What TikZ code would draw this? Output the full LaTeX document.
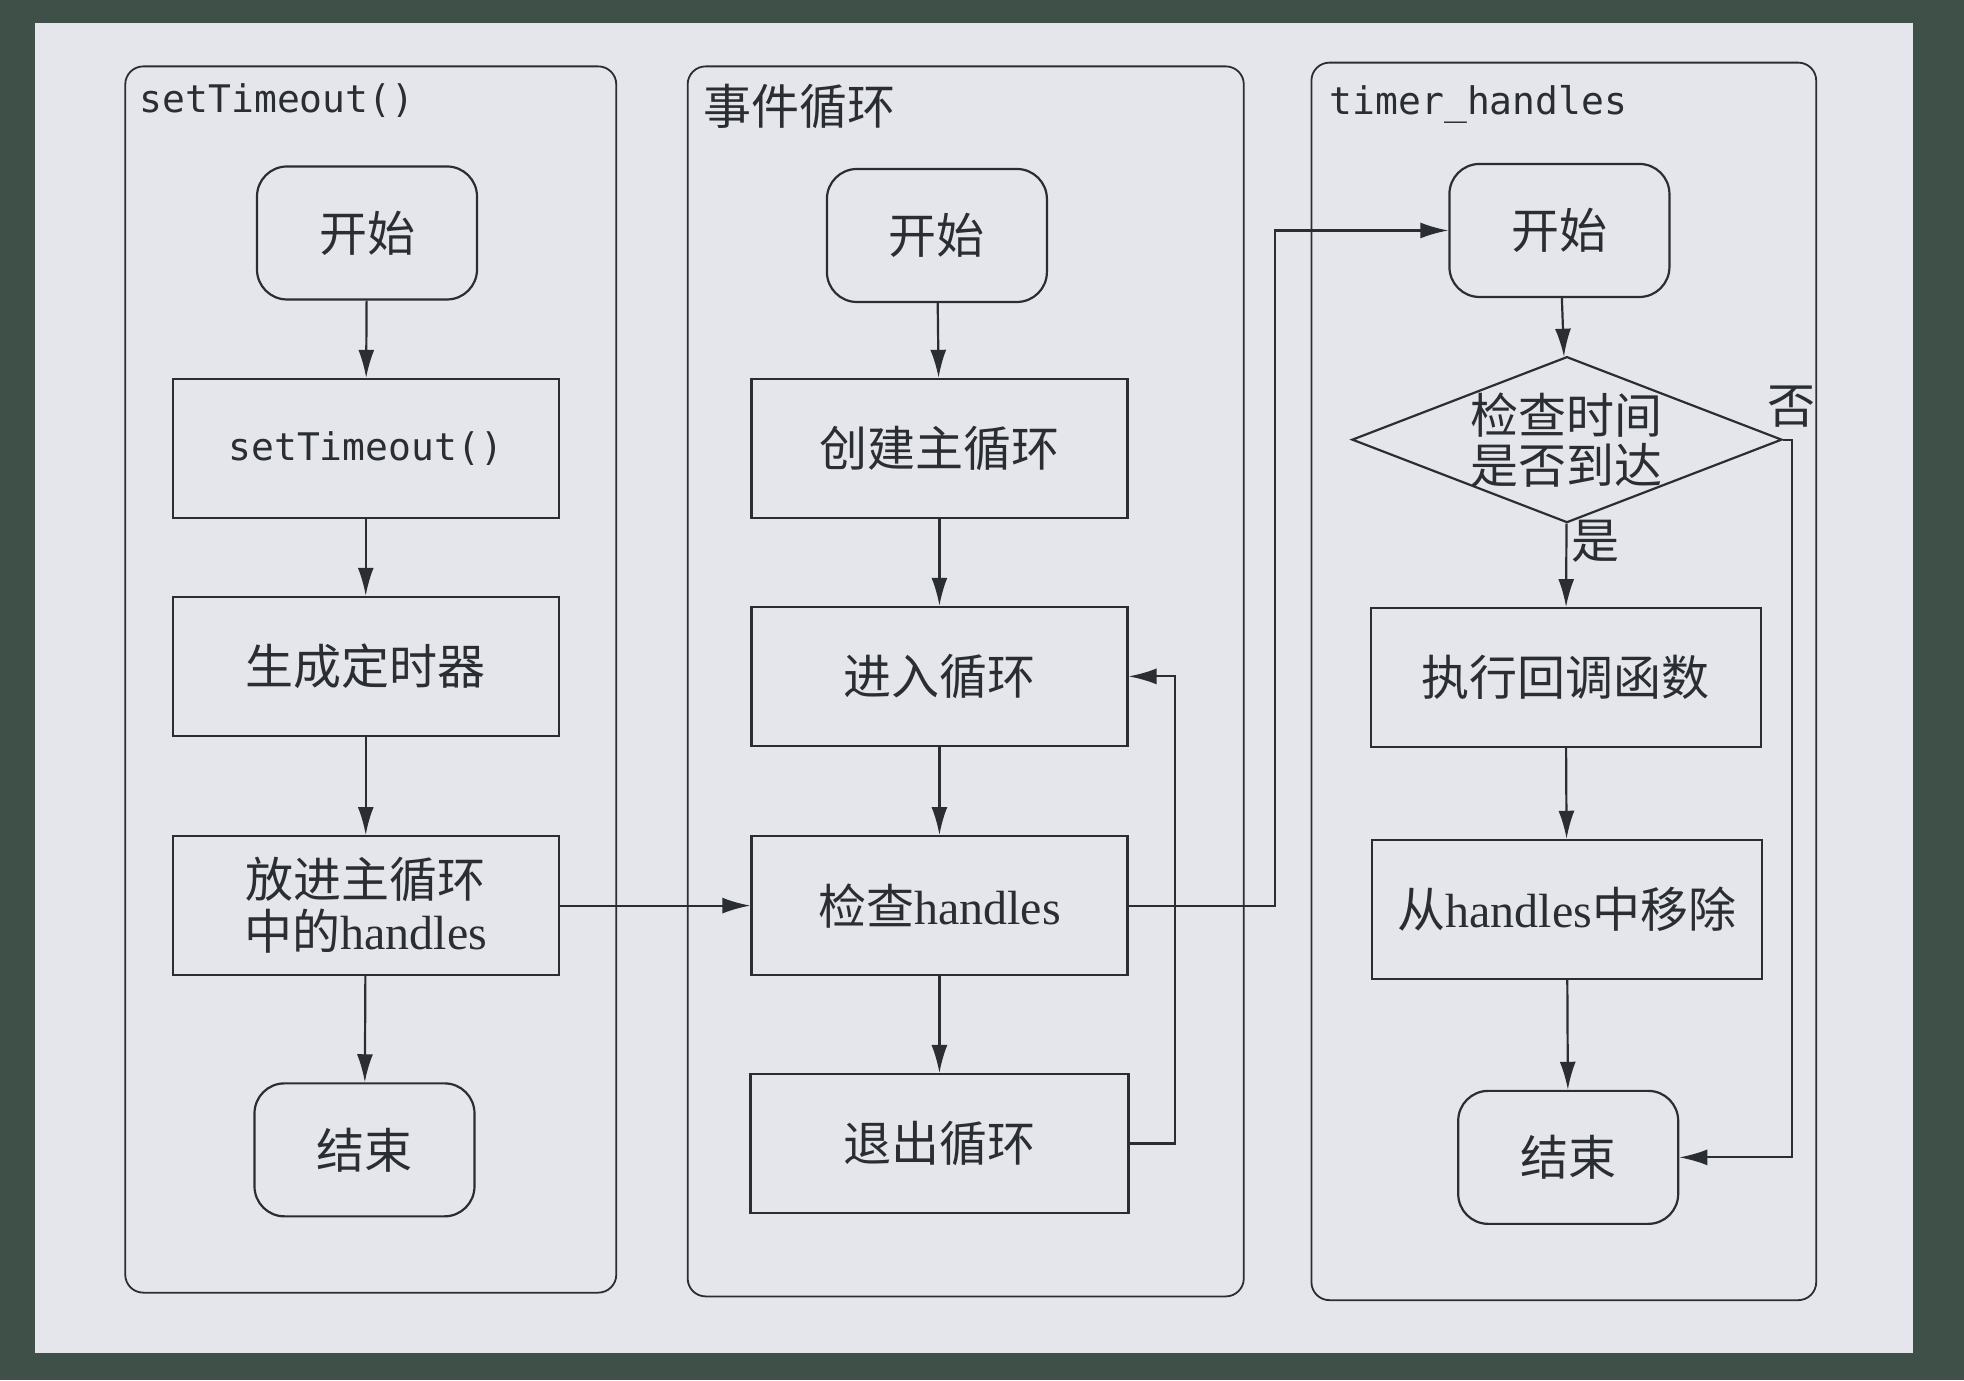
\documentclass[tikz,border=0pt]{standalone}
\usepackage{fontspec}
\setmainfont{Liberation Serif}
\setmonofont{DejaVu Sans Mono}
\newfontfamily\cjk{Noto Sans CJK SC}
\usetikzlibrary{shapes.geometric,arrows.meta}
\definecolor{ink}{HTML}{2A2E33}
\definecolor{board}{HTML}{3E5048}
\definecolor{paper}{HTML}{E4E6EB}
\tikzstyle{lane} = [draw=ink,rounded corners=9pt,line width=0.9pt]

\begin{document}
\begin{tikzpicture}
		[
		x=0.6263pt,y=-0.6263pt,
		txt/.style={text=ink,font=\fontsize{24pt}{26pt}\selectfont},
		zh/.style={text=ink,font=\cjk\fontsize{24pt}{25pt}\selectfont},
		block/.style={
		draw=ink,
		rectangle,
		line width=1.1pt,
		minimum height=69.5pt,
		txt},
		term/.style={
		draw=ink,
		rectangle,
		rounded corners=15pt,
		line width=1.1pt,
		minimum width=110pt,
		minimum height=66.5pt,
		txt},
		title/.style={anchor=west,text=ink,font=\ttfamily\fontsize{19pt}{22pt}\selectfont},
		arr/.style={draw=ink,line width=1.1pt,-{Latex[length=14pt,width=8pt]}}
		]
		\fill[board] (0,0) rectangle (1568,1102);
		\fill[paper] (28,18) rectangle (1527,1080);
		\useasboundingbox (0,0) rectangle (1568,1102);

		\draw[lane] (100,53) rectangle (492,1032);
		\draw[lane] (549,53) rectangle (993,1035);
		\draw[lane] (1047,50) rectangle (1450,1038);
		\node[title] (t1) at (106,80) {setTimeout()};
		\node[title,zh] (t2) at (556,85) {事件循环};
		\node[title] (t3) at (1056,83) {timer\_handles};

		\node[term] (a1) at (293,186) {\cjk 开始};
		\node[block,minimum width=193pt,font=\ttfamily\fontsize{19pt}{22pt}\selectfont] (a2) at (292,358) {setTimeout()};
		\node[block,minimum width=193pt] (a3) at (292,532) {\cjk 生成定时器};
		\node[block,minimum width=193pt,align=center] (a4) at (292,723) {{\cjk 放进主循环}\\{\cjk 中的}handles};
		\node[term] (a5) at (291,918) {\cjk 结束};

		\node[term] (b1) at (748,188) {\cjk 开始};
		\node[block,minimum width=188pt] (b2) at (750,358) {\cjk 创建主循环};
		\node[block,minimum width=188pt] (b3) at (750,540) {\cjk 进入循环};
		\node[block,minimum width=188pt] (b4) at (750,723) {{\cjk 检查}handles};
		\node[block,minimum width=189pt] (b5) at (750,913) {\cjk 退出循环};

		\node[term] (c1) at (1245,184) {\cjk 开始};
		\node[diamond,draw=ink,line width=1.1pt,inner sep=0pt,aspect=2.6,minimum width=215pt,minimum height=83pt,
		label={[zh,align=center]center:检查时间\\是否到达}] (c2) at (1251,351) {};
		\node[block,minimum width=195pt] (c3) at (1250,541) {\cjk 执行回调函数};
		\node[block,minimum width=195pt] (c4) at (1251,726) {{\cjk 从}handles{\cjk 中移除}};
		\node[term] (c5) at (1252,924) {\cjk 结束};

		\foreach \a/\b in {a1/a2,a2/a3,a3/a4,a4/a5,b1/b2,b2/b3,b3/b4,b4/b5,c1/c2,c2/c3,c3/c4,c4/c5}
		\draw[arr] (\a) -- (\b);
		\draw[arr] (a4.east) -- (b4.west);
		\draw[arr] (b4.east) -- ++(117,0) |- (c1.west);
		\draw[arr] (b5.east) -- ++(36,0) |- (b3.east);
		\draw[arr] (c2.east) -- ++(7,0) |- (c5.east);
		\node[zh] (no) at (1430,325) {否};
		\node[zh] (yes) at (1274,432) {是};
		\end{tikzpicture}
\end{document}
